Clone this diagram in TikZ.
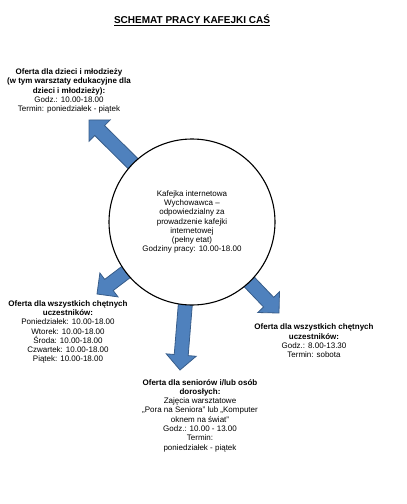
\documentclass[tikz,border=0pt]{standalone}
\usepackage{fontspec}
\setmainfont{Liberation Sans}
\usetikzlibrary{calc,backgrounds}
\definecolor{cafeblue}{HTML}{4F81BD}
\definecolor{cafeedge}{HTML}{385D8A}
% block arrow from #1 to #2
\newcommand{\blockarrow}[2]{%
 \coordinate (hb) at ($(#2)!15pt!(#1)$);
 \draw[blk] ($(#1)!7pt!90:(#2)$) -- ($(hb)!7pt!90:(#2)$) -- ($(hb)!15pt!90:(#2)$) -- (#2)
  -- ($(hb)!15pt!-90:(#2)$) -- ($(hb)!7pt!-90:(#2)$) -- ($(#1)!7pt!-90:(#2)$) -- cycle;}

\begin{document}
\begin{tikzpicture}[x=1pt,y=-1pt, every node/.style={font=\fontsize{8}{9.3}\selectfont,align=center,inner sep=0pt},
 hub/.style={circle,draw,line width=1.1pt,fill=white,minimum size=166pt},
 blk/.style={fill=cafeblue,draw=cafeedge,line width=0.8pt,line join=miter}]
\useasboundingbox (0,0) rectangle (407,504);
\node[font=\bfseries\fontsize{10}{12}\selectfont] (title) at (192,20) {\underline{SCHEMAT PRACY KAFEJKI CAŚ}};
\node[hub] (hub) at (192,222) {Kafejka internetowa\\Wychowawca –\\odpowiedzialny za\\prowadzenie kafejki\\internetowej\\(pełny etat)\\Godziny pracy: 10.00-18.00};
\node (kids) at (69,91) {\textbf{Oferta dla dzieci i młodzieży}\\\textbf{(w tym warsztaty edukacyjne dla}\\\textbf{dzieci i młodzieży):}\\Godz.: 10.00-18.00\\Termin: poniedziałek - piątek};
\node (week) at (68,332) {\textbf{Oferta dla wszystkich chętnych}\\\textbf{uczestników:}\\Poniedziałek: 10.00-18.00\\Wtorek: 10.00-18.00\\Środa: 10.00-18.00\\Czwartek: 10.00-18.00\\Piątek: 10.00-18.00};
\node (sat) at (314,341) {\textbf{Oferta dla wszystkich chętnych}\\\textbf{uczestników:}\\Godz.: 8.00-13.30\\Termin: sobota};
\node (senior) at (200,415.5) {\textbf{Oferta dla seniorów i/lub osób}\\\textbf{dorosłych:}\\Zajęcia warsztatowe\\„Pora na Seniora” lub „Komputer\\oknem na świat”\\Godz.: 10.00 - 13.00\\Termin:\\poniedziałek - piątek};
\coordinate (kidstip) at (89,120);
\coordinate (weektip) at (97,294);
\coordinate (seniortip) at (180,370);
\coordinate (sattip) at (279,313);
\begin{scope}[on background layer]
\blockarrow{hub.center}{kidstip}
\blockarrow{hub.center}{weektip}
\blockarrow{hub.center}{seniortip}
\blockarrow{hub.center}{sattip}
\end{scope}
\end{tikzpicture}
\end{document}
